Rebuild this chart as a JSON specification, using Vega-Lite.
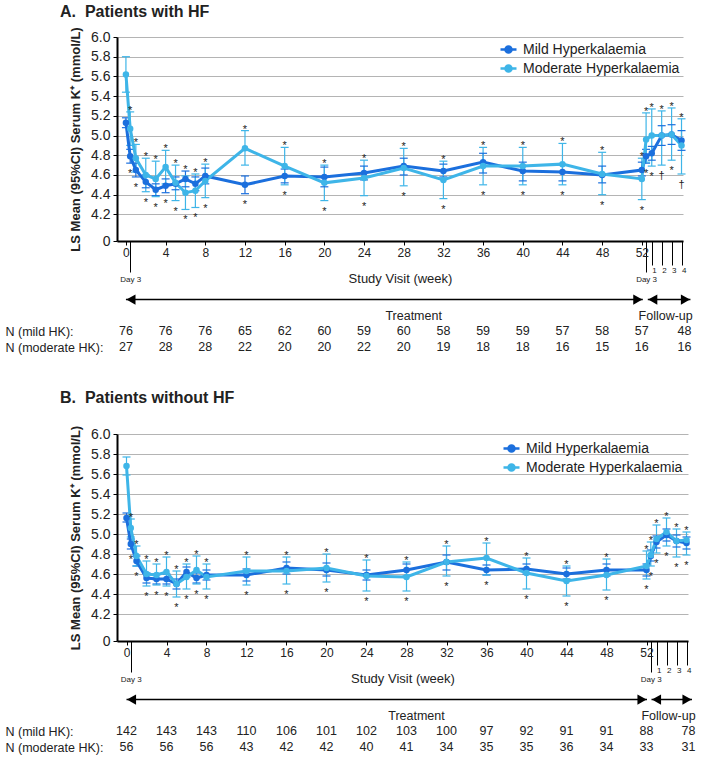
{
  "$schema": "https://vega.github.io/schema/vega-lite/v6.json",
  "padding": {"left": 5, "top": 3, "right": 5, "bottom": 5},
  "datasets": {
    "k": [
      {"p":"A","s":"Mild","wk":0,"m":5.13,"lo":5.08,"hi":5.18},
      {"p":"A","s":"Mild","wk":0.43,"m":4.79,"lo":4.72,"hi":4.86},
      {"p":"A","s":"Mild","wk":1,"m":4.65,"lo":4.58,"hi":4.72},
      {"p":"A","s":"Mild","wk":2,"m":4.53,"lo":4.47,"hi":4.60},
      {"p":"A","s":"Mild","wk":3,"m":4.45,"lo":4.39,"hi":4.51},
      {"p":"A","s":"Mild","wk":4,"m":4.49,"lo":4.42,"hi":4.56},
      {"p":"A","s":"Mild","wk":5,"m":4.51,"lo":4.45,"hi":4.58},
      {"p":"A","s":"Mild","wk":6,"m":4.56,"lo":4.48,"hi":4.64},
      {"p":"A","s":"Mild","wk":7,"m":4.51,"lo":4.44,"hi":4.58},
      {"p":"A","s":"Mild","wk":8,"m":4.59,"lo":4.51,"hi":4.67},
      {"p":"A","s":"Mild","wk":12,"m":4.50,"lo":4.41,"hi":4.59},
      {"p":"A","s":"Mild","wk":16,"m":4.59,"lo":4.52,"hi":4.66},
      {"p":"A","s":"Mild","wk":20,"m":4.58,"lo":4.48,"hi":4.68},
      {"p":"A","s":"Mild","wk":24,"m":4.62,"lo":4.55,"hi":4.69},
      {"p":"A","s":"Mild","wk":28,"m":4.69,"lo":4.60,"hi":4.77},
      {"p":"A","s":"Mild","wk":32,"m":4.64,"lo":4.58,"hi":4.71},
      {"p":"A","s":"Mild","wk":36,"m":4.73,"lo":4.62,"hi":4.82},
      {"p":"A","s":"Mild","wk":40,"m":4.64,"lo":4.54,"hi":4.73},
      {"p":"A","s":"Mild","wk":44,"m":4.63,"lo":4.54,"hi":4.70},
      {"p":"A","s":"Mild","wk":48,"m":4.60,"lo":4.52,"hi":4.69},
      {"p":"A","s":"Mild","wk":52,"m":4.65,"lo":4.59,"hi":4.73},
      {"p":"A","s":"Mild","wk":52.43,"m":4.79,"lo":4.72,"hi":4.86},
      {"p":"A","s":"Mild","wk":53,"m":4.82,"lo":4.75,"hi":4.89},
      {"p":"A","s":"Mild","wk":54,"m":5.00,"lo":4.90,"hi":5.10},
      {"p":"A","s":"Mild","wk":55,"m":5.01,"lo":4.91,"hi":5.11},
      {"p":"A","s":"Mild","wk":56,"m":4.95,"lo":4.85,"hi":5.05},
      {"p":"A","s":"Moderate","wk":0,"m":5.62,"lo":5.44,"hi":5.80},
      {"p":"A","s":"Moderate","wk":0.43,"m":5.07,"lo":4.90,"hi":5.24,"top":"*","bot":"*"},
      {"p":"A","s":"Moderate","wk":1,"m":4.77,"lo":4.63,"hi":4.91,"top":"*","bot":"*"},
      {"p":"A","s":"Moderate","wk":2,"m":4.60,"lo":4.43,"hi":4.77,"top":"*","bot":"*"},
      {"p":"A","s":"Moderate","wk":3,"m":4.56,"lo":4.38,"hi":4.74,"top":"*","bot":"*"},
      {"p":"A","s":"Moderate","wk":4,"m":4.68,"lo":4.51,"hi":4.85,"top":"*","bot":"*"},
      {"p":"A","s":"Moderate","wk":5,"m":4.52,"lo":4.34,"hi":4.70,"top":"*","bot":"*"},
      {"p":"A","s":"Moderate","wk":6,"m":4.42,"lo":4.25,"hi":4.59,"top":"*","bot":"*"},
      {"p":"A","s":"Moderate","wk":7,"m":4.44,"lo":4.27,"hi":4.61,"top":"*","bot":"*"},
      {"p":"A","s":"Moderate","wk":8,"m":4.54,"lo":4.37,"hi":4.71,"top":"*","bot":"*"},
      {"p":"A","s":"Moderate","wk":12,"m":4.87,"lo":4.70,"hi":5.05,"top":"*","bot":"*"},
      {"p":"A","s":"Moderate","wk":16,"m":4.69,"lo":4.50,"hi":4.88,"top":"*","bot":"*"},
      {"p":"A","s":"Moderate","wk":20,"m":4.52,"lo":4.34,"hi":4.70,"top":"*","bot":"*"},
      {"p":"A","s":"Moderate","wk":24,"m":4.57,"lo":4.39,"hi":4.75,"top":"*","bot":"*"},
      {"p":"A","s":"Moderate","wk":28,"m":4.67,"lo":4.49,"hi":4.87,"top":"*","bot":"*"},
      {"p":"A","s":"Moderate","wk":32,"m":4.55,"lo":4.36,"hi":4.74,"top":"*","bot":"*"},
      {"p":"A","s":"Moderate","wk":36,"m":4.69,"lo":4.50,"hi":4.88,"top":"*","bot":"*"},
      {"p":"A","s":"Moderate","wk":40,"m":4.69,"lo":4.50,"hi":4.88,"top":"*","bot":"*"},
      {"p":"A","s":"Moderate","wk":44,"m":4.71,"lo":4.50,"hi":4.92,"top":"*","bot":"*"},
      {"p":"A","s":"Moderate","wk":48,"m":4.61,"lo":4.40,"hi":4.83,"top":"*","bot":"*"},
      {"p":"A","s":"Moderate","wk":52,"m":4.56,"lo":4.35,"hi":4.77,"top":"*","bot":"*"},
      {"p":"A","s":"Moderate","wk":52.43,"m":4.96,"lo":4.73,"hi":5.23,"top":"*","bot":"*"},
      {"p":"A","s":"Moderate","wk":53,"m":5.00,"lo":4.69,"hi":5.27,"top":"*","bot":"*"},
      {"p":"A","s":"Moderate","wk":54,"m":5.00,"lo":4.70,"hi":5.25,"top":"*","bot":"†"},
      {"p":"A","s":"Moderate","wk":55,"m":5.01,"lo":4.75,"hi":5.28,"top":"*","bot":"*"},
      {"p":"A","s":"Moderate","wk":56,"m":4.90,"lo":4.61,"hi":5.17,"top":"*","bot":"†"},
      {"p":"B","s":"Mild","wk":0,"m":5.16,"lo":5.12,"hi":5.21},
      {"p":"B","s":"Mild","wk":0.43,"m":4.90,"lo":4.85,"hi":4.95},
      {"p":"B","s":"Mild","wk":1,"m":4.73,"lo":4.68,"hi":4.78},
      {"p":"B","s":"Mild","wk":2,"m":4.56,"lo":4.51,"hi":4.61},
      {"p":"B","s":"Mild","wk":3,"m":4.55,"lo":4.50,"hi":4.60},
      {"p":"B","s":"Mild","wk":4,"m":4.55,"lo":4.50,"hi":4.60},
      {"p":"B","s":"Mild","wk":5,"m":4.50,"lo":4.45,"hi":4.55},
      {"p":"B","s":"Mild","wk":6,"m":4.62,"lo":4.57,"hi":4.67},
      {"p":"B","s":"Mild","wk":7,"m":4.56,"lo":4.51,"hi":4.61},
      {"p":"B","s":"Mild","wk":8,"m":4.59,"lo":4.54,"hi":4.64},
      {"p":"B","s":"Mild","wk":12,"m":4.59,"lo":4.53,"hi":4.65},
      {"p":"B","s":"Mild","wk":16,"m":4.66,"lo":4.60,"hi":4.72},
      {"p":"B","s":"Mild","wk":20,"m":4.64,"lo":4.58,"hi":4.71},
      {"p":"B","s":"Mild","wk":24,"m":4.59,"lo":4.54,"hi":4.64},
      {"p":"B","s":"Mild","wk":28,"m":4.64,"lo":4.58,"hi":4.70},
      {"p":"B","s":"Mild","wk":32,"m":4.72,"lo":4.64,"hi":4.79},
      {"p":"B","s":"Mild","wk":36,"m":4.64,"lo":4.59,"hi":4.69},
      {"p":"B","s":"Mild","wk":40,"m":4.65,"lo":4.60,"hi":4.70},
      {"p":"B","s":"Mild","wk":44,"m":4.60,"lo":4.55,"hi":4.66},
      {"p":"B","s":"Mild","wk":48,"m":4.64,"lo":4.58,"hi":4.70},
      {"p":"B","s":"Mild","wk":52,"m":4.64,"lo":4.58,"hi":4.70},
      {"p":"B","s":"Mild","wk":52.43,"m":4.78,"lo":4.73,"hi":4.84},
      {"p":"B","s":"Mild","wk":53,"m":4.92,"lo":4.86,"hi":4.98},
      {"p":"B","s":"Mild","wk":54,"m":4.99,"lo":4.93,"hi":5.05},
      {"p":"B","s":"Mild","wk":55,"m":4.93,"lo":4.87,"hi":4.99},
      {"p":"B","s":"Mild","wk":56,"m":4.91,"lo":4.85,"hi":4.97},
      {"p":"B","s":"Moderate","wk":0,"m":5.68,"lo":5.59,"hi":5.77},
      {"p":"B","s":"Moderate","wk":0.43,"m":5.06,"lo":4.97,"hi":5.15,"top":"*","bot":"*"},
      {"p":"B","s":"Moderate","wk":1,"m":4.78,"lo":4.68,"hi":4.88,"top":"*","bot":"*"},
      {"p":"B","s":"Moderate","wk":2,"m":4.60,"lo":4.48,"hi":4.73,"top":"*","bot":"*"},
      {"p":"B","s":"Moderate","wk":3,"m":4.59,"lo":4.49,"hi":4.70,"top":"*","bot":"*"},
      {"p":"B","s":"Moderate","wk":4,"m":4.62,"lo":4.48,"hi":4.77,"top":"*","bot":"*"},
      {"p":"B","s":"Moderate","wk":5,"m":4.50,"lo":4.37,"hi":4.63,"top":"*","bot":"*"},
      {"p":"B","s":"Moderate","wk":6,"m":4.57,"lo":4.45,"hi":4.70,"top":"*","bot":"*"},
      {"p":"B","s":"Moderate","wk":7,"m":4.64,"lo":4.50,"hi":4.78,"top":"*","bot":"*"},
      {"p":"B","s":"Moderate","wk":8,"m":4.57,"lo":4.45,"hi":4.70,"top":"*","bot":"*"},
      {"p":"B","s":"Moderate","wk":12,"m":4.63,"lo":4.49,"hi":4.77,"top":"*","bot":"*"},
      {"p":"B","s":"Moderate","wk":16,"m":4.63,"lo":4.50,"hi":4.77,"top":"*","bot":"*"},
      {"p":"B","s":"Moderate","wk":20,"m":4.66,"lo":4.52,"hi":4.80,"top":"*","bot":"*"},
      {"p":"B","s":"Moderate","wk":24,"m":4.58,"lo":4.43,"hi":4.74,"top":"*","bot":"*"},
      {"p":"B","s":"Moderate","wk":28,"m":4.57,"lo":4.43,"hi":4.72,"top":"*","bot":"*"},
      {"p":"B","s":"Moderate","wk":32,"m":4.72,"lo":4.58,"hi":4.88,"top":"*","bot":"*"},
      {"p":"B","s":"Moderate","wk":36,"m":4.76,"lo":4.59,"hi":4.91,"top":"*","bot":"*"},
      {"p":"B","s":"Moderate","wk":40,"m":4.61,"lo":4.45,"hi":4.76,"top":"*","bot":"*"},
      {"p":"B","s":"Moderate","wk":44,"m":4.53,"lo":4.38,"hi":4.68,"top":"*","bot":"*"},
      {"p":"B","s":"Moderate","wk":48,"m":4.59,"lo":4.44,"hi":4.75,"top":"*","bot":"*"},
      {"p":"B","s":"Moderate","wk":52,"m":4.68,"lo":4.55,"hi":4.83,"top":"*","bot":"*"},
      {"p":"B","s":"Moderate","wk":52.43,"m":4.79,"lo":4.68,"hi":4.92,"top":"*","bot":"*"},
      {"p":"B","s":"Moderate","wk":53,"m":4.95,"lo":4.81,"hi":5.09,"top":"*","bot":"*"},
      {"p":"B","s":"Moderate","wk":54,"m":5.02,"lo":4.88,"hi":5.16,"top":"*","bot":"*"},
      {"p":"B","s":"Moderate","wk":55,"m":4.93,"lo":4.77,"hi":5.05,"top":"*","bot":"*"},
      {"p":"B","s":"Moderate","wk":56,"m":4.94,"lo":4.79,"hi":5.02,"top":"*","bot":"*"}
    ],
    "n": [
      {"p":"A","row":"mild","wk":0,"n":76},{"p":"A","row":"mild","wk":4,"n":76},{"p":"A","row":"mild","wk":8,"n":76},{"p":"A","row":"mild","wk":12,"n":65},{"p":"A","row":"mild","wk":16,"n":62},{"p":"A","row":"mild","wk":20,"n":60},{"p":"A","row":"mild","wk":24,"n":59},{"p":"A","row":"mild","wk":28,"n":60},{"p":"A","row":"mild","wk":32,"n":58},{"p":"A","row":"mild","wk":36,"n":59},{"p":"A","row":"mild","wk":40,"n":59},{"p":"A","row":"mild","wk":44,"n":57},{"p":"A","row":"mild","wk":48,"n":58},{"p":"A","row":"mild","wk":52,"n":57},{"p":"A","row":"mild","wk":56.3,"n":48},
      {"p":"A","row":"moderate","wk":0,"n":27},{"p":"A","row":"moderate","wk":4,"n":28},{"p":"A","row":"moderate","wk":8,"n":28},{"p":"A","row":"moderate","wk":12,"n":22},{"p":"A","row":"moderate","wk":16,"n":20},{"p":"A","row":"moderate","wk":20,"n":20},{"p":"A","row":"moderate","wk":24,"n":22},{"p":"A","row":"moderate","wk":28,"n":20},{"p":"A","row":"moderate","wk":32,"n":19},{"p":"A","row":"moderate","wk":36,"n":18},{"p":"A","row":"moderate","wk":40,"n":18},{"p":"A","row":"moderate","wk":44,"n":16},{"p":"A","row":"moderate","wk":48,"n":15},{"p":"A","row":"moderate","wk":52,"n":16},{"p":"A","row":"moderate","wk":56.3,"n":16},
      {"p":"B","row":"mild","wk":0,"n":142},{"p":"B","row":"mild","wk":4,"n":143},{"p":"B","row":"mild","wk":8,"n":143},{"p":"B","row":"mild","wk":12,"n":110},{"p":"B","row":"mild","wk":16,"n":106},{"p":"B","row":"mild","wk":20,"n":101},{"p":"B","row":"mild","wk":24,"n":102},{"p":"B","row":"mild","wk":28,"n":103},{"p":"B","row":"mild","wk":32,"n":100},{"p":"B","row":"mild","wk":36,"n":97},{"p":"B","row":"mild","wk":40,"n":92},{"p":"B","row":"mild","wk":44,"n":91},{"p":"B","row":"mild","wk":48,"n":91},{"p":"B","row":"mild","wk":52,"n":88},{"p":"B","row":"mild","wk":56.2,"n":78},
      {"p":"B","row":"moderate","wk":0,"n":56},{"p":"B","row":"moderate","wk":4,"n":56},{"p":"B","row":"moderate","wk":8,"n":56},{"p":"B","row":"moderate","wk":12,"n":43},{"p":"B","row":"moderate","wk":16,"n":42},{"p":"B","row":"moderate","wk":20,"n":42},{"p":"B","row":"moderate","wk":24,"n":40},{"p":"B","row":"moderate","wk":28,"n":41},{"p":"B","row":"moderate","wk":32,"n":34},{"p":"B","row":"moderate","wk":36,"n":35},{"p":"B","row":"moderate","wk":40,"n":35},{"p":"B","row":"moderate","wk":44,"n":36},{"p":"B","row":"moderate","wk":48,"n":34},{"p":"B","row":"moderate","wk":52,"n":33},{"p":"B","row":"moderate","wk":56.2,"n":31}
    ],
    "ph": [
      {"p":"A","row":"arrow","a":0,"b":52.1,"t":29,"label":"Treatment"},
      {"p":"A","row":"arrow","a":52.6,"b":56.9,"t":54.4,"label":"Follow-up"},
      {"p":"B","row":"arrow","a":0,"b":52.05,"t":29,"label":"Treatment"},
      {"p":"B","row":"arrow","a":52.5,"b":56.55,"t":54.2,"label":"Follow-up"}
    ]
  },
  "resolve": {"scale": {"stroke": "independent", "fill": "independent"}},
  "spacing": 31,
  "vconcat": [
    {
      "resolve": {"scale": {"stroke": "independent", "fill": "independent"}},
      "spacing": 3,
      "vconcat": [
        {
          "title": {"text": "A.\u00a0 Patients with HF", "anchor": "start", "frame": "group", "dx": -57, "fontSize": 16, "fontWeight": "bold", "color": "#222", "offset": 7},
          "width": 566, "height": 204,
          "data": {"name": "k"},
          "transform": [{"filter": "datum.p == 'A'"}],
          "encoding": {
            "x": {"field": "wk", "type": "quantitative", "scale": {"domain": [-0.9, 56.15], "nice": false, "zero": false},
              "axis": {"values": [0,0.43,4,8,12,16,20,24,28,32,36,40,44,48,52,52.43,53,54,55,56],
                "labelExpr": "datum.value % 1 != 0 ? 'Day 3' : datum.value > 52.5 ? format(datum.value - 52, 'd') : format(datum.value, 'd')",
                "grid": false, "domainWidth": 2, "domainColor": "#000", "tickColor": "#000", "tickWidth": 1,
                "tickSize": {"condition": [{"test": "datum.value % 1 != 0", "value": 31}, {"test": "datum.value > 52.5", "value": 24}], "value": 4},
                "labelFontSize": {"condition": {"test": "datum.value % 1 != 0 || datum.value > 52.5", "value": 8}, "value": 12},
                "labelPadding": {"condition": [{"test": "datum.value % 1 != 0", "value": 3}, {"test": "datum.value > 52.5", "value": 1}], "value": 2},
                "labelAlign": {"condition": {"test": "datum.value > 52.5", "value": "left"}, "value": "center"},
                "labelOverlap": false, "labelFlush": false, "labelBound": false, "labelColor": "#222",
                "title": "Study Visit (week)", "titleFontSize": 13, "titleFontWeight": "normal", "titleY": 37, "titleBaseline": "middle", "titleColor": "#222"}},
            "y": {"field": "m", "type": "quantitative", "scale": {"domain": [3.93, 6.0], "nice": false, "zero": false},
              "axis": {"title": "LS Mean (95%CI) Serum K⁺ (mmol/L)", "titleFontSize": 13, "titleFontWeight": "bold", "titleColor": "#222", "titlePadding": 8,
                "values": [3.93,4.2,4.4,4.6,4.8,5,5.2,5.4,5.6,5.8,6], "labelExpr": "datum.value < 4 ? '0' : format(datum.value, '.1f')",
                "labelOverlap": false, "labelSeparation": 0, "labelFontSize": 14, "labelPadding": 3, "labelColor": "#222", "tickSize": 4, "tickColor": "#000", "grid": true, "gridColor": "#b4b4b4",
                "domainWidth": 2, "domainColor": "#000"}}
          },
          "layer": [
            {"transform": [{"aggregate": [{"op": "count", "as": "c"}]}],
             "mark": {"type": "rect", "fill": "#acc9eb", "opacity": 0.7},
             "encoding": {"x": {"datum": -0.9, "type": "quantitative"}, "x2": {"datum": 56.45},
               "y": {"datum": 5.0, "type": "quantitative"}, "y2": {"datum": 4.04}}},
            {"mark": {"type": "rule", "strokeWidth": 1.2},
             "encoding": {"y": {"field": "lo", "type": "quantitative"}, "y2": {"field": "hi"},
               "stroke": {"field": "s", "type": "nominal", "scale": {"domain": ["Mild", "Moderate"], "range": ["#1b6fdd", "#3eb5e8"]},
                 "legend": {"title": null, "orient": "top-right", "offset": 3, "padding": 0, "symbolType": "M-1,0H1M-0.38,0A0.38,0.38,0,1,1,0.38,0A0.38,0.38,0,1,1,-0.38,0", "symbolSize": 256, "symbolStrokeWidth": 2.5, "labelFontSize": 14, "labelColor": "#222", "labelOffset": 5, "rowPadding": 1, "labelExpr": "datum.label + ' Hyperkalaemia'"}}}},
            {"transform": [{"fold": ["lo", "hi"], "as": ["kk", "v"]}],
             "mark": {"type": "rule", "strokeWidth": 1.2, "xOffset": -4, "x2Offset": 4},
             "encoding": {"x2": {"field": "wk"}, "y": {"field": "v", "type": "quantitative"},
               "stroke": {"field": "s", "type": "nominal", "scale": {"domain": ["Mild", "Moderate"], "range": ["#1b6fdd", "#3eb5e8"]},
                 "legend": {"title": null, "orient": "top-right", "offset": 3, "padding": 0, "symbolType": "M-1,0H1M-0.38,0A0.38,0.38,0,1,1,0.38,0A0.38,0.38,0,1,1,-0.38,0", "symbolSize": 256, "symbolStrokeWidth": 2.5, "labelFontSize": 14, "labelColor": "#222", "labelOffset": 5, "rowPadding": 1, "labelExpr": "datum.label + ' Hyperkalaemia'"}}}},
            {"mark": {"type": "line", "strokeWidth": 3},
             "encoding": {
               "stroke": {"field": "s", "type": "nominal", "scale": {"domain": ["Mild", "Moderate"], "range": ["#1b6fdd", "#3eb5e8"]},
                 "legend": {"title": null, "orient": "top-right", "offset": 3, "padding": 0, "symbolType": "M-1,0H1M-0.38,0A0.38,0.38,0,1,1,0.38,0A0.38,0.38,0,1,1,-0.38,0", "symbolSize": 256, "symbolStrokeWidth": 2.5, "labelFontSize": 14, "labelColor": "#222", "labelOffset": 5, "rowPadding": 1, "labelExpr": "datum.label + ' Hyperkalaemia'"}}}},
            {"mark": {"type": "circle", "size": 42, "opacity": 1},
             "encoding": {
               "fill": {"field": "s", "type": "nominal", "scale": {"domain": ["Mild", "Moderate"], "range": ["#1b6fdd", "#3eb5e8"]},
                 "legend": {"title": null, "orient": "top-right", "offset": 3, "padding": 0, "symbolType": "M-1,0H1M-0.38,0A0.38,0.38,0,1,1,0.38,0A0.38,0.38,0,1,1,-0.38,0", "symbolSize": 256, "symbolStrokeWidth": 2.5, "labelFontSize": 14, "labelColor": "#222", "labelOffset": 5, "rowPadding": 1, "labelExpr": "datum.label + ' Hyperkalaemia'"}}}},
            {"transform": [{"joinaggregate": [{"op": "max", "field": "hi", "as": "H"}], "groupby": ["wk"]}, {"filter": "datum.top"}],
             "mark": {"type": "text", "fontSize": 11, "dy": 2, "baseline": "alphabetic", "align": "center", "color": "#222"},
             "encoding": {"y": {"field": "H", "type": "quantitative"}, "text": {"field": "top"}}},
            {"transform": [{"joinaggregate": [{"op": "min", "field": "lo", "as": "L"}], "groupby": ["wk"]}, {"filter": "datum.bot"}],
             "mark": {"type": "text", "fontSize": 11, "dy": 14, "baseline": "alphabetic", "align": "center", "color": "#222"},
             "encoding": {"y": {"field": "L", "type": "quantitative"}, "text": {"field": "bot"}}},
            {"transform": [{"aggregate": [{"op": "count", "as": "c"}]}],
             "mark": {"type": "text", "text": "//", "fontSize": 17, "baseline": "middle", "align": "center", "color": "#000"},
             "encoding": {"x": {"datum": -0.9, "type": "quantitative"}, "y": {"datum": 4.11, "type": "quantitative"}}}
          ]
        },
        {
          "width": 566, "height": 71,
          "layer": [
            {"data": {"name": "ph"}, "transform": [{"filter": "datum.p == 'A'"}],
             "mark": {"type": "rule", "strokeWidth": 1.5, "color": "#000"},
             "encoding": {"x": {"field": "a", "type": "quantitative", "scale": {"domain": [-0.9, 56.15], "nice": false, "zero": false}, "axis": null}, "x2": {"field": "b"},
               "y": {"field": "row", "type": "ordinal", "scale": {"type": "point", "domain": ["arrow", "phase", "mild", "moderate"], "padding": 0.73},
                 "axis": {"values": ["mild", "moderate"], "labelExpr": "datum.value == 'mild' ? 'N (mild HK):' : 'N (moderate HK):'", "title": null, "domain": false, "ticks": false, "labelAlign": "left", "labelPadding": 112, "labelFontSize": 12.5, "labelColor": "#222", "grid": false}}}},
            {"data": {"name": "ph"}, "transform": [{"filter": "datum.p == 'A'"}],
             "mark": {"type": "point", "shape": "triangle-left", "filled": true, "fill": "#000", "strokeWidth": 0, "size": 110, "opacity": 1, "xOffset": 5},
             "encoding": {"x": {"field": "a", "type": "quantitative", "scale": {"domain": [-0.9, 56.15], "nice": false, "zero": false}, "axis": null},
               "y": {"field": "row", "type": "ordinal", "scale": {"type": "point", "domain": ["arrow", "phase", "mild", "moderate"], "padding": 0.73},
                 "axis": {"values": ["mild", "moderate"], "labelExpr": "datum.value == 'mild' ? 'N (mild HK):' : 'N (moderate HK):'", "title": null, "domain": false, "ticks": false, "labelAlign": "left", "labelPadding": 112, "labelFontSize": 12.5, "labelColor": "#222", "grid": false}}}},
            {"data": {"name": "ph"}, "transform": [{"filter": "datum.p == 'A'"}],
             "mark": {"type": "point", "shape": "triangle-right", "filled": true, "fill": "#000", "strokeWidth": 0, "size": 110, "opacity": 1, "xOffset": -5},
             "encoding": {"x": {"field": "b", "type": "quantitative", "scale": {"domain": [-0.9, 56.15], "nice": false, "zero": false}, "axis": null},
               "y": {"field": "row", "type": "ordinal", "scale": {"type": "point", "domain": ["arrow", "phase", "mild", "moderate"], "padding": 0.73},
                 "axis": {"values": ["mild", "moderate"], "labelExpr": "datum.value == 'mild' ? 'N (mild HK):' : 'N (moderate HK):'", "title": null, "domain": false, "ticks": false, "labelAlign": "left", "labelPadding": 112, "labelFontSize": 12.5, "labelColor": "#222", "grid": false}}}},
            {"data": {"name": "ph"}, "transform": [{"filter": "datum.p == 'A'"}],
             "mark": {"type": "text", "fontSize": 12.5, "color": "#222", "align": "center", "baseline": "middle"},
             "encoding": {"x": {"field": "t", "type": "quantitative", "scale": {"domain": [-0.9, 56.15], "nice": false, "zero": false}, "axis": null},
               "y": {"datum": "phase", "type": "ordinal", "scale": {"type": "point", "domain": ["arrow", "phase", "mild", "moderate"], "padding": 0.73},
                 "axis": {"values": ["mild", "moderate"], "labelExpr": "datum.value == 'mild' ? 'N (mild HK):' : 'N (moderate HK):'", "title": null, "domain": false, "ticks": false, "labelAlign": "left", "labelPadding": 112, "labelFontSize": 12.5, "labelColor": "#222", "grid": false}},
               "text": {"field": "label"}}},
            {"data": {"name": "n"}, "transform": [{"filter": "datum.p == 'A'"}],
             "mark": {"type": "text", "fontSize": 12.5, "color": "#222", "align": "center", "baseline": "middle"},
             "encoding": {"x": {"field": "wk", "type": "quantitative", "scale": {"domain": [-0.9, 56.15], "nice": false, "zero": false}, "axis": null},
               "y": {"field": "row", "type": "ordinal", "scale": {"type": "point", "domain": ["arrow", "phase", "mild", "moderate"], "padding": 0.73},
                 "axis": {"values": ["mild", "moderate"], "labelExpr": "datum.value == 'mild' ? 'N (mild HK):' : 'N (moderate HK):'", "title": null, "domain": false, "ticks": false, "labelAlign": "left", "labelPadding": 112, "labelFontSize": 12.5, "labelColor": "#222", "grid": false}},
               "text": {"field": "n"}}}
          ]
        }
      ]
    },
    {
      "resolve": {"scale": {"stroke": "independent", "fill": "independent"}},
      "spacing": 3,
      "vconcat": [
        {
          "title": {"text": "B.\u00a0 Patients without HF", "anchor": "start", "frame": "group", "dx": -57, "fontSize": 16, "fontWeight": "bold", "color": "#222", "offset": 19},
          "width": 571, "height": 207,
          "data": {"name": "k"},
          "transform": [{"filter": "datum.p == 'B'"}],
          "encoding": {
            "x": {"field": "wk", "type": "quantitative", "scale": {"domain": [-0.95, 56.15], "nice": false, "zero": false},
              "axis": {"values": [0,0.43,4,8,12,16,20,24,28,32,36,40,44,48,52,52.43,53,54,55,56],
                "labelExpr": "datum.value % 1 != 0 ? 'Day 3' : datum.value > 52.5 ? format(datum.value - 52, 'd') : format(datum.value, 'd')",
                "grid": false, "domainWidth": 2, "domainColor": "#000", "tickColor": "#000", "tickWidth": 1,
                "tickSize": {"condition": [{"test": "datum.value % 1 != 0", "value": 31}, {"test": "datum.value > 52.5", "value": 24}], "value": 4},
                "labelFontSize": {"condition": {"test": "datum.value % 1 != 0 || datum.value > 52.5", "value": 8}, "value": 12},
                "labelPadding": {"condition": [{"test": "datum.value % 1 != 0", "value": 3}, {"test": "datum.value > 52.5", "value": 1}], "value": 2},
                "labelAlign": {"condition": {"test": "datum.value > 52.5", "value": "left"}, "value": "center"},
                "labelOverlap": false, "labelFlush": false, "labelBound": false, "labelColor": "#222",
                "title": "Study Visit (week)", "titleFontSize": 13, "titleFontWeight": "normal", "titleY": 37, "titleBaseline": "middle", "titleColor": "#222"}},
            "y": {"field": "m", "type": "quantitative", "scale": {"domain": [3.93, 6.0], "nice": false, "zero": false},
              "axis": {"title": "LS Mean (95%CI) Serum K⁺ (mmol/L)", "titleFontSize": 13, "titleFontWeight": "bold", "titleColor": "#222", "titlePadding": 8,
                "values": [3.93,4.2,4.4,4.6,4.8,5,5.2,5.4,5.6,5.8,6], "labelExpr": "datum.value < 4 ? '0' : format(datum.value, '.1f')",
                "labelOverlap": false, "labelSeparation": 0, "labelFontSize": 14, "labelPadding": 3, "labelColor": "#222", "tickSize": 4, "tickColor": "#000", "grid": true, "gridColor": "#b4b4b4",
                "domainWidth": 2, "domainColor": "#000"}}
          },
          "layer": [
            {"transform": [{"aggregate": [{"op": "count", "as": "c"}]}],
             "mark": {"type": "rect", "fill": "#acc9eb", "opacity": 0.7},
             "encoding": {"x": {"datum": -0.95, "type": "quantitative"}, "x2": {"datum": 56.3},
               "y": {"datum": 5.0, "type": "quantitative"}, "y2": {"datum": 4.04}}},
            {"mark": {"type": "rule", "strokeWidth": 1.2},
             "encoding": {"y": {"field": "lo", "type": "quantitative"}, "y2": {"field": "hi"},
               "stroke": {"field": "s", "type": "nominal", "scale": {"domain": ["Mild", "Moderate"], "range": ["#1b6fdd", "#3eb5e8"]},
                 "legend": {"title": null, "orient": "top-right", "offset": 5, "padding": 0, "symbolType": "M-1,0H1M-0.38,0A0.38,0.38,0,1,1,0.38,0A0.38,0.38,0,1,1,-0.38,0", "symbolSize": 256, "symbolStrokeWidth": 2.5, "labelFontSize": 14, "labelColor": "#222", "labelOffset": 5, "rowPadding": 1, "labelExpr": "datum.label + ' Hyperkalaemia'"}}}},
            {"transform": [{"fold": ["lo", "hi"], "as": ["kk", "v"]}],
             "mark": {"type": "rule", "strokeWidth": 1.2, "xOffset": -4, "x2Offset": 4},
             "encoding": {"x2": {"field": "wk"}, "y": {"field": "v", "type": "quantitative"},
               "stroke": {"field": "s", "type": "nominal", "scale": {"domain": ["Mild", "Moderate"], "range": ["#1b6fdd", "#3eb5e8"]},
                 "legend": {"title": null, "orient": "top-right", "offset": 5, "padding": 0, "symbolType": "M-1,0H1M-0.38,0A0.38,0.38,0,1,1,0.38,0A0.38,0.38,0,1,1,-0.38,0", "symbolSize": 256, "symbolStrokeWidth": 2.5, "labelFontSize": 14, "labelColor": "#222", "labelOffset": 5, "rowPadding": 1, "labelExpr": "datum.label + ' Hyperkalaemia'"}}}},
            {"mark": {"type": "line", "strokeWidth": 3},
             "encoding": {
               "stroke": {"field": "s", "type": "nominal", "scale": {"domain": ["Mild", "Moderate"], "range": ["#1b6fdd", "#3eb5e8"]},
                 "legend": {"title": null, "orient": "top-right", "offset": 5, "padding": 0, "symbolType": "M-1,0H1M-0.38,0A0.38,0.38,0,1,1,0.38,0A0.38,0.38,0,1,1,-0.38,0", "symbolSize": 256, "symbolStrokeWidth": 2.5, "labelFontSize": 14, "labelColor": "#222", "labelOffset": 5, "rowPadding": 1, "labelExpr": "datum.label + ' Hyperkalaemia'"}}}},
            {"mark": {"type": "circle", "size": 42, "opacity": 1},
             "encoding": {
               "fill": {"field": "s", "type": "nominal", "scale": {"domain": ["Mild", "Moderate"], "range": ["#1b6fdd", "#3eb5e8"]},
                 "legend": {"title": null, "orient": "top-right", "offset": 5, "padding": 0, "symbolType": "M-1,0H1M-0.38,0A0.38,0.38,0,1,1,0.38,0A0.38,0.38,0,1,1,-0.38,0", "symbolSize": 256, "symbolStrokeWidth": 2.5, "labelFontSize": 14, "labelColor": "#222", "labelOffset": 5, "rowPadding": 1, "labelExpr": "datum.label + ' Hyperkalaemia'"}}}},
            {"transform": [{"joinaggregate": [{"op": "max", "field": "hi", "as": "H"}], "groupby": ["wk"]}, {"filter": "datum.top"}],
             "mark": {"type": "text", "fontSize": 11, "dy": 2, "baseline": "alphabetic", "align": "center", "color": "#222"},
             "encoding": {"y": {"field": "H", "type": "quantitative"}, "text": {"field": "top"}}},
            {"transform": [{"joinaggregate": [{"op": "min", "field": "lo", "as": "L"}], "groupby": ["wk"]}, {"filter": "datum.bot"}],
             "mark": {"type": "text", "fontSize": 11, "dy": 14, "baseline": "alphabetic", "align": "center", "color": "#222"},
             "encoding": {"y": {"field": "L", "type": "quantitative"}, "text": {"field": "bot"}}},
            {"transform": [{"aggregate": [{"op": "count", "as": "c"}]}],
             "mark": {"type": "text", "text": "//", "fontSize": 17, "baseline": "middle", "align": "center", "color": "#000"},
             "encoding": {"x": {"datum": -0.95, "type": "quantitative"}, "y": {"datum": 4.11, "type": "quantitative"}}}
          ]
        },
        {
          "width": 571, "height": 71,
          "layer": [
            {"data": {"name": "ph"}, "transform": [{"filter": "datum.p == 'B'"}],
             "mark": {"type": "rule", "strokeWidth": 1.5, "color": "#000"},
             "encoding": {"x": {"field": "a", "type": "quantitative", "scale": {"domain": [-0.95, 56.15], "nice": false, "zero": false}, "axis": null}, "x2": {"field": "b"},
               "y": {"field": "row", "type": "ordinal", "scale": {"type": "point", "domain": ["arrow", "phase", "mild", "moderate"], "padding": 0.73},
                 "axis": {"values": ["mild", "moderate"], "labelExpr": "datum.value == 'mild' ? 'N (mild HK):' : 'N (moderate HK):'", "title": null, "domain": false, "ticks": false, "labelAlign": "left", "labelPadding": 112, "labelFontSize": 12.5, "labelColor": "#222", "grid": false}}}},
            {"data": {"name": "ph"}, "transform": [{"filter": "datum.p == 'B'"}],
             "mark": {"type": "point", "shape": "triangle-left", "filled": true, "fill": "#000", "strokeWidth": 0, "size": 110, "opacity": 1, "xOffset": 5},
             "encoding": {"x": {"field": "a", "type": "quantitative", "scale": {"domain": [-0.95, 56.15], "nice": false, "zero": false}, "axis": null},
               "y": {"field": "row", "type": "ordinal", "scale": {"type": "point", "domain": ["arrow", "phase", "mild", "moderate"], "padding": 0.73},
                 "axis": {"values": ["mild", "moderate"], "labelExpr": "datum.value == 'mild' ? 'N (mild HK):' : 'N (moderate HK):'", "title": null, "domain": false, "ticks": false, "labelAlign": "left", "labelPadding": 112, "labelFontSize": 12.5, "labelColor": "#222", "grid": false}}}},
            {"data": {"name": "ph"}, "transform": [{"filter": "datum.p == 'B'"}],
             "mark": {"type": "point", "shape": "triangle-right", "filled": true, "fill": "#000", "strokeWidth": 0, "size": 110, "opacity": 1, "xOffset": -5},
             "encoding": {"x": {"field": "b", "type": "quantitative", "scale": {"domain": [-0.95, 56.15], "nice": false, "zero": false}, "axis": null},
               "y": {"field": "row", "type": "ordinal", "scale": {"type": "point", "domain": ["arrow", "phase", "mild", "moderate"], "padding": 0.73},
                 "axis": {"values": ["mild", "moderate"], "labelExpr": "datum.value == 'mild' ? 'N (mild HK):' : 'N (moderate HK):'", "title": null, "domain": false, "ticks": false, "labelAlign": "left", "labelPadding": 112, "labelFontSize": 12.5, "labelColor": "#222", "grid": false}}}},
            {"data": {"name": "ph"}, "transform": [{"filter": "datum.p == 'B'"}],
             "mark": {"type": "text", "fontSize": 12.5, "color": "#222", "align": "center", "baseline": "middle"},
             "encoding": {"x": {"field": "t", "type": "quantitative", "scale": {"domain": [-0.95, 56.15], "nice": false, "zero": false}, "axis": null},
               "y": {"datum": "phase", "type": "ordinal", "scale": {"type": "point", "domain": ["arrow", "phase", "mild", "moderate"], "padding": 0.73},
                 "axis": {"values": ["mild", "moderate"], "labelExpr": "datum.value == 'mild' ? 'N (mild HK):' : 'N (moderate HK):'", "title": null, "domain": false, "ticks": false, "labelAlign": "left", "labelPadding": 112, "labelFontSize": 12.5, "labelColor": "#222", "grid": false}},
               "text": {"field": "label"}}},
            {"data": {"name": "n"}, "transform": [{"filter": "datum.p == 'B'"}],
             "mark": {"type": "text", "fontSize": 12.5, "color": "#222", "align": "center", "baseline": "middle"},
             "encoding": {"x": {"field": "wk", "type": "quantitative", "scale": {"domain": [-0.95, 56.15], "nice": false, "zero": false}, "axis": null},
               "y": {"field": "row", "type": "ordinal", "scale": {"type": "point", "domain": ["arrow", "phase", "mild", "moderate"], "padding": 0.73},
                 "axis": {"values": ["mild", "moderate"], "labelExpr": "datum.value == 'mild' ? 'N (mild HK):' : 'N (moderate HK):'", "title": null, "domain": false, "ticks": false, "labelAlign": "left", "labelPadding": 112, "labelFontSize": 12.5, "labelColor": "#222", "grid": false}},
               "text": {"field": "n"}}}
          ]
        }
      ]
    }
  ],
  "config": {
    "view": {"stroke": null},
    "font": "Liberation Sans, Arial, sans-serif",
    "axis": {"labelOverlap": false}
  }
}
